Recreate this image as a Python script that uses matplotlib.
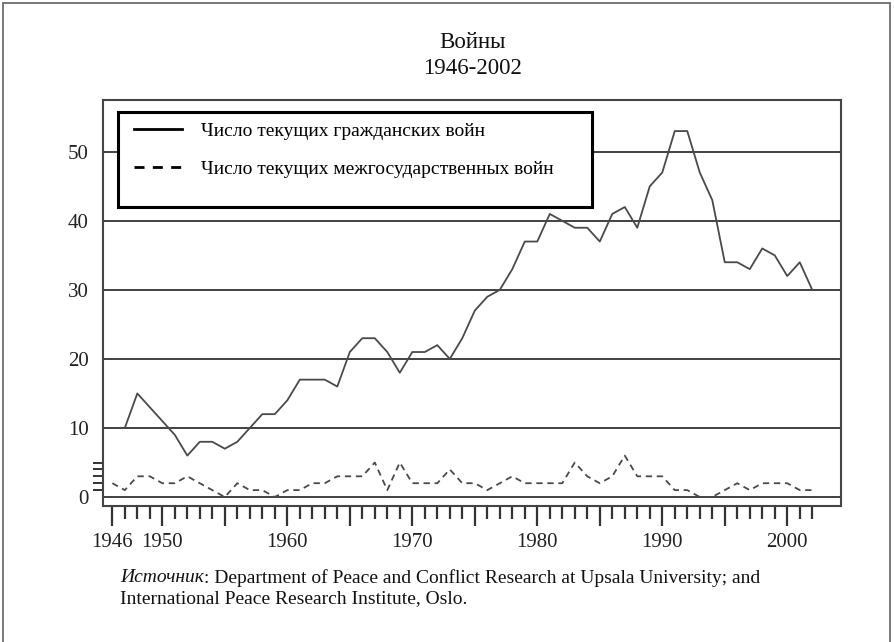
import numpy as np
import matplotlib
matplotlib.use("Agg")
import matplotlib.pyplot as plt
from matplotlib.lines import Line2D
from matplotlib.patches import Rectangle
from matplotlib.ticker import FixedLocator, FixedFormatter

# ---------------- data ----------------
civil_years = np.arange(1947, 2003)
civil_wars = [10, 15, 13, 11, 9, 6, 8, 8, 7, 8,
              10, 12, 12, 14, 17, 17, 17, 16, 21, 23,
              23, 21, 18, 21, 21, 22, 20, 23, 27, 29,
              30, 33, 37, 37, 41, 40, 39, 39, 37, 41,
              42, 39, 45, 47, 53, 53, 47, 43, 34, 34,
              33, 36, 35, 32, 34, 30]

inter_years = np.arange(1946, 2003)
inter_wars = [2, 1, 3, 3, 2, 2, 3, 2, 1, 0,
              2, 1, 1, 0, 1, 1, 2, 2, 3, 3,
              3, 5, 1, 5, 2, 2, 2, 4, 2, 2,
              1, 2, 3, 2, 2, 2, 2, 5, 3, 2,
              3, 6, 3, 3, 3, 1, 1, 0, 0, 1,
              2, 1, 2, 2, 2, 1, 1]

y_major = [0, 10, 20, 30, 40, 50]
y_minor = [1, 2, 3, 4, 5]
x_major = [1946, 1950, 1955, 1960, 1965, 1970, 1975, 1980, 1985, 1990, 1995, 2000]
x_major_labels = ["1946", "1950", "", "1960", "", "1970", "", "1980", "", "1990", "", "2000"]
x_minor = list(range(1946, 2003))

title_line1 = "Войны"
title_line2 = "1946-2002"
legend_labels = ["Число текущих гражданских войн", "Число текущих межгосударственных войн"]
source_italic = "Источник"
source_rest_1 = ": Department of Peace and Conflict Research at Upsala University; and"
source_rest_2 = "International Peace Research Institute, Oslo."

# ---------------- figure ----------------
SERIF = ["Liberation Serif", "DejaVu Serif"]
plt.rcParams["font.family"] = SERIF

W, H = 894, 642
fig = plt.figure(figsize=(W / 100, H / 100), dpi=100)
fig.patch.set_facecolor("white")

# outer frame of the picture
fig.patches.append(Rectangle((3 / W, -0.01), (890 - 3) / W, 1 - 3 / H + 0.01,
                             transform=fig.transFigure, fill=False,
                             edgecolor="#6e6e6e", linewidth=1.3))

ax_l, ax_r, ax_t, ax_b = 102.7, 841, 100, 506
ax = fig.add_axes([ax_l / W, 1 - ax_b / H, (ax_r - ax_l) / W, (ax_b - ax_t) / H])

ax.plot(civil_years, civil_wars, color="#4a4a4a", linewidth=1.3, zorder=3)
ax.plot(inter_years, inter_wars, color="#4a4a4a", linewidth=1.3,
        linestyle=(0, (3.5, 2.6)), zorder=3)

ax.set_xlim(1945.23, 2004.3)
ax.set_ylim(-1.3, 57.5)

# y axis
ax.yaxis.set_major_locator(FixedLocator(y_major))
ax.yaxis.set_minor_locator(FixedLocator(y_minor))
ax.tick_params(axis="y", which="major", length=0, pad=10, labelsize=15,
               labelcolor="#222222")
ax.tick_params(axis="y", which="minor", length=7.5, width=1.4, color="#333333",
               direction="out")
ax.yaxis.grid(True, which="major", color="#333333", linewidth=1.3, zorder=1)
ax.set_axisbelow(True)

# x axis
ax.xaxis.set_major_locator(FixedLocator(x_major))
ax.xaxis.set_major_formatter(FixedFormatter(x_major_labels))
ax.xaxis.set_minor_locator(FixedLocator(x_minor))
ax.tick_params(axis="x", which="major", length=14.5, width=1.6, color="#333333",
               direction="out", pad=5, labelsize=15, labelcolor="#222222")
ax.tick_params(axis="x", which="minor", length=9, width=1.6, color="#333333",
               direction="out")

for sp in ax.spines.values():
    sp.set_color("#444444")
    sp.set_linewidth(1.5)

# legend box
lx0 = (118.3 - ax_l) / (ax_r - ax_l)
lx1 = (592.3 - ax_l) / (ax_r - ax_l)
ly0 = (ax_b - 206.7) / (ax_b - ax_t)
ly1 = (ax_b - 112.3) / (ax_b - ax_t)
ax.add_patch(Rectangle((lx0, ly0), lx1 - lx0, ly1 - ly0, transform=ax.transAxes,
                       facecolor="white", edgecolor="black", linewidth=2.2, zorder=4))

handles = [Line2D([], [], color="black", linewidth=2.0),
           Line2D([], [], color="black", linewidth=2.0, linestyle=(0, (3.6, 3.0)))]
leg = ax.legend(handles, legend_labels, loc="upper left",
                bbox_to_anchor=((134 - ax_l) / (ax_r - ax_l), (ax_b - 122) / (ax_b - ax_t)),
                frameon=False, fontsize=14, handlelength=2.47, handletextpad=0.98,
                labelspacing=1.08, borderpad=0, borderaxespad=0)
leg.set_zorder(5)

# title
fig.text(472 / W, 1 - 43 / H, title_line1, ha="center", va="center",
         fontsize=16.5, color="#111111")
fig.text(472 / W, 1 - 69 / H, title_line2, ha="center", va="center",
         fontsize=16.5, color="#111111")

# source note
t1 = fig.text(120 / W, 1 - 578 / H, source_italic, ha="left", va="center",
              fontsize=14, style="italic", color="#111111")
ax.annotate(source_rest_1, xy=(1, 0.5), xycoords=t1, ha="left", va="center",
            fontsize=14, color="#111111", annotation_clip=False)
fig.text(120 / W, 1 - 599 / H, source_rest_2, ha="left", va="center",
         fontsize=14, color="#111111")

fig.savefig("out.png", dpi=100, facecolor="white")
